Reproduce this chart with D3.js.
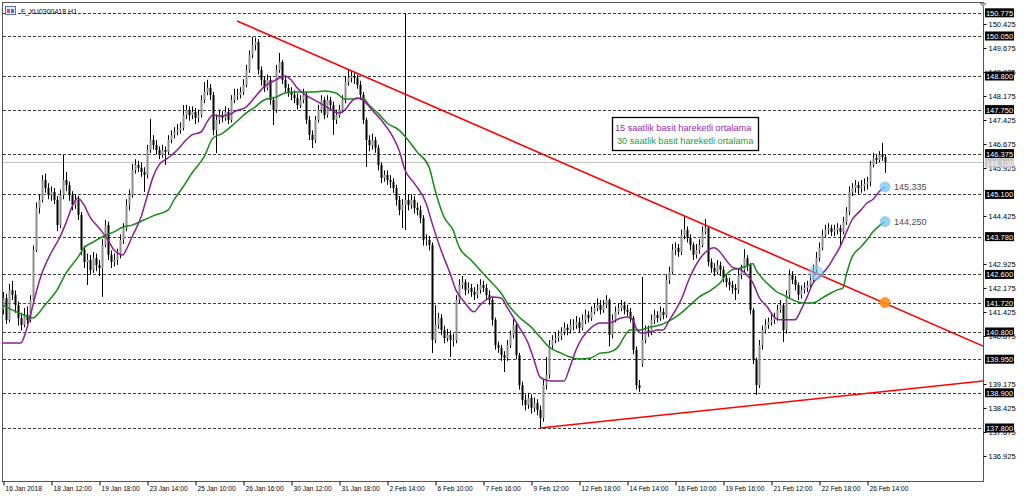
<!DOCTYPE html>
<html><head><meta charset="utf-8">
<script src="https://cdn.jsdelivr.net/npm/d3@7"></script>
<style>body{margin:0;background:#fff}svg{display:block}text{font-family:"Liberation Sans",Arial,sans-serif}</style>
</head><body><svg id="c" width="1024" height="499"></svg>
<script>
// ---- DATA (hourly bars, F_XU0300418 H1) ----
const opens=[
141.50,141.86,141.18,142.11,141.96,141.64,141.24,141.02,141.33,141.18,
141.80,143.36,144.68,144.93,145.55,145.30,145.08,145.18,144.93,144.14,
145.08,145.55,145.39,145.08,144.77,144.93,144.46,143.36,142.99,143.05,
142.74,143.11,142.89,142.80,143.52,144.14,143.21,142.99,143.05,143.21,
143.68,144.05,144.77,145.08,145.86,146.02,145.93,145.80,145.71,146.49,
146.80,146.64,146.49,146.33,146.49,146.43,146.80,146.96,147.05,147.11,
147.18,147.58,147.74,147.58,147.68,147.49,147.58,148.05,148.30,148.43,
148.21,147.11,147.43,147.58,147.49,147.68,147.43,148.05,148.21,148.21,
148.30,148.52,148.99,149.46,149.77,149.86,148.99,148.68,148.43,148.68,
148.05,147.74,148.99,149.24,148.68,148.43,148.30,148.21,148.11,147.89,
148.05,148.21,147.43,146.96,146.80,147.43,147.74,148.05,147.58,148.05,
147.89,147.43,147.58,147.74,148.05,148.61,148.74,148.80,148.74,148.52,
148.21,147.43,146.80,146.64,146.80,146.55,146.02,145.61,145.71,145.55,
145.49,145.30,144.93,144.61,144.77,144.93,144.77,144.93,144.68,144.61,
144.36,143.68,143.68,143.52,140.55,141.02,141.24,140.86,140.61,140.71,
140.55,140.55,141.80,142.27,142.36,142.11,142.18,142.05,141.96,142.11,
142.27,142.18,141.96,141.80,141.18,140.39,140.30,140.08,139.99,140.39,
140.71,141.02,140.08,139.14,138.68,138.52,138.74,138.43,138.58,138.36,
138.11,139.14,139.46,140.39,140.55,140.61,140.68,140.80,140.93,140.86,
141.02,141.02,141.11,140.93,141.18,141.33,141.24,141.43,141.55,141.64,
141.49,141.64,141.80,140.71,141.18,141.43,141.55,141.64,141.49,141.43,
141.24,140.24,139.14,139.80,140.55,140.86,140.80,141.18,141.33,141.24,
141.43,141.33,142.43,142.68,143.36,143.43,143.30,143.83,143.99,143.74,
143.52,143.21,143.36,143.52,143.93,144.05,142.99,142.80,142.68,142.89,
142.74,142.49,142.36,142.27,142.18,142.11,142.58,142.74,143.11,142.89,
141.49,139.93,139.14,140.39,140.86,141.02,141.11,141.18,141.24,141.49,
141.64,140.86,141.96,142.58,142.43,142.27,141.96,142.11,142.18,142.27,
142.43,142.74,143.11,143.43,143.83,143.99,144.05,143.93,143.99,144.05,
143.93,144.24,144.55,145.18,145.30,145.39,145.30,145.36,145.43,145.49,
146.02,146.24,146.18,146.33,146.27];
const highs=[
142.05,142.00,142.30,142.40,142.10,141.75,141.40,141.55,141.60,141.95,
143.50,144.85,145.10,145.70,145.75,145.45,145.35,145.30,145.05,145.25,
146.33,145.80,145.50,145.20,145.10,145.05,144.55,143.50,143.25,143.20,
143.30,143.25,143.05,143.70,144.30,144.25,143.35,143.25,143.40,143.85,
144.20,144.95,145.25,146.05,146.20,146.15,146.10,145.95,146.65,147.46,
146.95,146.80,146.60,146.65,146.60,146.95,147.10,147.20,147.30,147.35,
147.89,147.90,147.85,147.85,147.80,147.75,148.20,148.61,148.68,148.55,
148.30,147.60,147.75,147.70,147.85,147.80,148.20,148.40,148.40,148.45,
148.70,149.15,149.60,150.02,150.00,149.95,149.10,148.80,148.85,148.80,
148.15,149.15,149.52,149.30,148.80,148.55,148.45,148.35,148.25,148.20,
148.40,148.30,147.55,147.10,147.55,147.90,148.20,148.15,148.20,148.15,
148.00,147.75,147.90,148.20,148.80,148.99,148.95,148.90,148.85,148.65,
148.30,147.50,146.95,147.00,146.90,146.65,146.10,145.85,145.85,145.70,
145.60,145.40,145.05,144.95,150.77,145.10,145.10,145.05,144.85,144.75,
144.45,143.85,143.80,143.60,141.64,141.40,141.35,141.00,140.90,140.85,
140.75,141.95,142.45,142.55,142.45,142.35,142.30,142.20,142.30,142.45,
142.40,142.30,142.10,141.90,141.25,140.50,140.40,140.20,140.55,140.85,
141.20,141.10,140.15,139.25,138.85,138.90,138.85,138.75,138.70,138.50,
139.30,140.02,140.55,140.70,140.80,140.85,140.95,141.10,141.05,141.20,
141.20,141.30,141.25,141.35,141.50,141.45,141.60,141.70,141.85,141.80,
141.80,141.95,141.85,141.35,141.60,141.70,141.80,141.75,141.65,141.55,
141.30,140.35,139.30,142.52,141.00,141.00,141.35,141.50,141.45,141.60,
141.55,142.60,142.85,143.55,143.60,143.55,144.00,144.43,144.10,143.85,
143.60,143.55,143.70,144.10,144.33,144.10,143.10,142.95,143.05,143.00,
142.85,142.60,142.50,142.40,142.30,142.75,142.90,143.39,143.20,142.95,
141.55,140.00,140.55,141.00,141.20,141.25,141.35,141.40,141.65,141.80,
141.70,142.10,142.75,142.70,142.55,142.35,142.25,142.35,142.40,142.60,
142.90,143.30,143.60,144.00,144.15,144.20,144.15,144.15,144.20,144.15,
144.40,144.70,145.35,145.45,145.55,145.50,145.55,145.60,145.65,146.15,
146.40,146.35,146.45,146.71,146.35];
const lows=[
141.35,141.05,141.10,141.80,141.40,141.00,140.85,140.95,141.05,141.10,
141.70,143.30,144.50,144.85,145.15,144.95,144.90,144.80,143.95,144.05,
144.95,145.20,144.90,144.60,144.65,144.30,143.20,142.80,142.27,142.60,
142.65,142.70,142.55,141.90,143.45,143.05,142.80,142.85,142.90,143.10,
143.55,143.95,144.60,145.00,145.75,145.80,145.65,145.18,145.60,146.40,
146.50,146.35,146.20,146.25,146.02,146.35,146.70,146.85,146.95,147.00,
147.10,147.45,147.40,147.45,147.30,147.35,147.50,147.95,148.20,148.05,
146.95,146.39,147.30,147.35,147.40,147.30,147.35,147.95,148.05,148.10,
148.20,148.45,148.90,149.35,149.60,148.85,148.50,148.30,148.35,147.90,
147.27,147.65,148.90,148.55,148.30,148.15,148.05,147.95,147.75,147.80,
147.95,147.30,146.80,146.55,146.70,147.35,147.65,147.45,147.50,147.75,
146.96,147.30,147.50,147.65,147.95,148.50,148.60,148.55,148.40,148.05,
147.30,145.96,146.45,146.50,146.40,145.85,145.45,145.50,145.40,145.30,
145.15,144.75,144.45,144.05,143.99,144.60,144.65,144.50,144.45,144.20,
143.50,143.50,143.35,140.14,140.45,140.90,140.70,140.45,140.50,140.02,
140.35,140.45,141.70,142.15,141.95,142.00,141.90,141.80,141.85,142.00,
142.05,141.80,141.65,141.00,140.25,140.15,139.90,139.55,139.90,140.30,
140.60,139.95,139.00,138.50,138.35,138.40,138.25,138.30,138.20,137.80,
138.00,139.00,139.35,140.25,140.45,140.50,140.55,140.70,140.70,140.75,
140.85,140.90,140.80,140.85,141.05,141.10,141.15,141.35,141.45,141.35,
141.40,141.55,140.35,140.60,141.10,141.35,141.45,141.35,141.30,141.10,
140.10,139.00,138.93,139.71,140.45,140.65,140.70,141.05,141.10,141.15,
141.20,141.25,142.30,142.60,143.20,143.15,143.20,143.70,143.60,143.35,
143.05,143.10,143.25,143.45,143.85,142.85,142.65,142.55,142.60,142.55,
142.35,142.20,142.10,142.00,141.80,142.00,142.45,142.65,142.70,141.35,
139.80,138.83,139.05,140.25,140.75,140.90,141.00,141.05,141.15,141.40,
140.49,140.75,141.85,142.30,142.10,141.80,141.85,142.00,142.05,142.15,
142.35,142.65,143.00,143.35,143.75,143.85,143.80,143.80,143.85,143.45,
143.85,144.15,144.45,145.05,145.15,145.10,145.15,145.20,145.25,145.35,
145.95,146.05,146.10,146.15,145.77];
const closes=[
141.86,141.18,142.11,141.96,141.64,141.24,141.02,141.33,141.18,141.80,
143.36,144.68,144.93,145.55,145.30,145.08,145.18,144.93,144.14,145.08,
145.55,145.39,145.08,144.77,144.93,144.46,143.36,142.99,143.05,142.74,
143.11,142.89,142.80,143.52,144.14,143.21,142.99,143.05,143.21,143.68,
144.05,144.77,145.08,145.86,146.02,145.93,145.80,145.71,146.49,146.80,
146.64,146.49,146.33,146.49,146.43,146.80,146.96,147.05,147.11,147.18,
147.58,147.74,147.58,147.68,147.49,147.58,148.05,148.30,148.43,148.21,
147.11,147.43,147.58,147.49,147.68,147.43,148.05,148.21,148.21,148.30,
148.52,148.99,149.46,149.77,149.86,148.99,148.68,148.43,148.68,148.05,
147.74,148.99,149.24,148.68,148.43,148.30,148.21,148.11,147.89,148.05,
148.21,147.43,146.96,146.80,147.43,147.74,148.05,147.58,148.05,147.89,
147.43,147.58,147.74,148.05,148.61,148.74,148.80,148.74,148.52,148.21,
147.43,146.80,146.64,146.80,146.55,146.02,145.61,145.71,145.55,145.49,
145.30,144.93,144.61,144.77,144.93,144.77,144.93,144.68,144.61,144.36,
143.68,143.68,143.52,140.55,141.02,141.24,140.86,140.61,140.71,140.55,
140.55,141.80,142.27,142.36,142.11,142.18,142.05,141.96,142.11,142.27,
142.18,141.96,141.80,141.18,140.39,140.30,140.08,139.99,140.39,140.71,
141.02,140.08,139.14,138.68,138.52,138.74,138.43,138.58,138.36,138.11,
139.14,139.46,140.39,140.55,140.61,140.68,140.80,140.93,140.86,141.02,
141.02,141.11,140.93,141.18,141.33,141.24,141.43,141.55,141.64,141.49,
141.64,141.80,140.71,141.18,141.43,141.55,141.64,141.49,141.43,141.24,
140.24,139.14,139.05,140.55,140.86,140.80,141.18,141.33,141.24,141.43,
141.33,142.43,142.68,143.36,143.43,143.30,143.83,143.99,143.74,143.52,
143.21,143.36,143.52,143.93,144.05,142.99,142.80,142.68,142.89,142.74,
142.49,142.36,142.27,142.18,142.11,142.58,142.74,143.11,142.89,141.49,
139.93,139.14,140.39,140.86,141.02,141.11,141.18,141.24,141.49,141.64,
140.86,141.96,142.58,142.43,142.27,141.96,142.11,142.18,142.27,142.43,
142.74,143.11,143.43,143.83,143.99,144.05,143.93,143.99,144.05,143.93,
144.24,144.55,145.18,145.30,145.39,145.30,145.36,145.43,145.49,146.02,
146.24,146.18,146.33,146.27,146.10];

// moving averages: [bar index, value]
const ma15=[[0,140.46],[3,140.46],[6,140.46],[7,140.64],[9,141.27],[11,142.02],[13,142.64],[16,143.27],[19,143.77],[21,144.21],[23,144.71],[25,144.99],[27,144.77],[29,144.39],[32,144.05],[35,143.68],[37,143.36],[40,143.21],[41,143.36],[43,143.77],[46,144.39],[48,145.02],[50,145.64],[52,146.02],[55,146.24],[57,146.39],[59,146.58],[61,146.80],[63,146.96],[66,147.05],[68,147.36],[70,147.58],[72,147.55],[76,147.61],[77,147.68],[81,147.83],[84,148.14],[87,148.46],[91,148.68],[94,148.80],[96,148.68],[98,148.43],[102,148.14],[105,147.99],[108,147.83],[112,147.64],[114,147.74],[116,147.99],[118,148.11],[120,148.05],[123,147.74],[126,147.43],[130,146.89],[132,146.49],[134,145.86],[137,145.46],[141,144.83],[143,144.21],[146,143.36],[149,142.64],[151,142.11],[154,141.71],[157,141.43],[159,141.64],[161,141.80],[163,141.89],[166,141.86],[168,141.58],[170,141.27],[172,140.96],[175,140.46],[177,139.93],[179,139.39],[181,139.30],[183,139.27],[187,139.27],[189,139.71],[191,140.24],[193,140.61],[196,140.93],[199,141.08],[202,141.08],[206,141.24],[208,141.27],[210,141.18],[211,140.93],[213,140.77],[216,140.80],[218,140.86],[220,140.86],[222,141.15],[224,141.45],[226,141.80],[229,142.52],[232,143.05],[235,143.36],[237,143.43],[239,143.30],[241,143.05],[243,142.83],[246,142.74],[248,142.58],[250,142.33],[252,141.89],[255,141.55],[257,141.27],[259,141.18],[261,141.18],[264,141.18],[266,141.49],[268,141.89],[270,142.33],[272,142.52],[275,142.83],[277,143.14],[279,143.46],[281,143.89],[283,144.30],[286,144.61],[288,144.83],[290,144.95],[292,145.18],[294,145.335]];
const ma30=[[0,141.64],[3,141.49],[7,141.33],[10,141.24],[12,141.40],[14,141.65],[16,141.86],[18,142.11],[21,142.64],[25,143.14],[27,143.43],[30,143.61],[33,143.77],[37,143.93],[40,144.08],[43,144.14],[47,144.30],[50,144.43],[55,144.61],[57,144.93],[60,145.33],[63,145.77],[67,146.27],[70,146.86],[73,147.00],[77,147.30],[81,147.64],[84,147.83],[87,148.05],[91,148.14],[94,148.27],[97,148.30],[101,148.30],[104,148.30],[107,148.33],[111,148.27],[114,148.08],[117,148.08],[120,148.11],[122,147.89],[125,147.64],[128,147.33],[132,147.11],[135,146.80],[138,146.43],[142,145.96],[144,145.24],[147,144.39],[150,143.99],[152,143.46],[156,143.05],[159,142.74],[162,142.43],[166,142.02],[169,141.58],[172,141.27],[176,140.96],[179,140.64],[182,140.33],[186,140.14],[189,140.02],[192,139.96],[196,139.99],[199,140.14],[202,140.17],[205,140.33],[207,140.64],[209,140.86],[212,140.86],[216,140.96],[219,141.02],[222,141.14],[226,141.39],[229,141.64],[232,141.89],[236,142.11],[239,142.33],[241,142.58],[243,142.74],[246,142.80],[248,142.86],[250,142.93],[251,142.74],[253,142.49],[256,142.21],[258,142.05],[260,141.96],[262,141.86],[265,141.74],[267,141.71],[269,141.71],[271,141.74],[273,141.86],[276,142.02],[278,142.11],[280,142.18],[281,142.55],[283,143.14],[286,143.46],[288,143.68],[290,143.93],[292,144.11],[294,144.25]];

const downTrend=[[78,150.52],[326.7,140.36]];
const upTrend=[[179,137.80],[326.7,139.27]];
const levels=[150.775,150.05,148.8,147.75,146.375,145.1,143.78,142.6,141.72,140.8,139.95,138.9,137.8];
// regular price-scale ticks (those fully hidden under level boxes are omitted, as in the reference)
const yTicks=[150.425,149.675,148.925,148.175,147.425,146.675,145.925,144.425,142.925,142.175,141.425,140.675,139.175,138.425,137.675,136.925];
const bid=146.10;
const xTickIdx=[0,16,32,48,64,80,96,112,128,144,160,176,192,208,224,240,256,272,288];
const xLabels=["16 Jan 2018","18 Jan 12:00","19 Jan 18:00","23 Jan 14:00","25 Jan 10:00","26 Jan 16:00","30 Jan 12:00","31 Jan 18:00","2 Feb 14:00","6 Feb 10:00","7 Feb 16:00","9 Feb 12:00","12 Feb 18:00","14 Feb 14:00","16 Feb 10:00","19 Feb 16:00","21 Feb 12:00","22 Feb 18:00","26 Feb 14:00"];
const blueMarks=[[294,145.335,"145,335"],[294,144.25,"144,250"],[271,142.64,""]];
const orangeMarks=[[294,141.72]];
const legendItems=["15 saatlik basit hareketli ortalama","30 saatlik basit hareketli ortalama"];
const symbolTitle="F_XU0300418,H1";

// ---- DRAW ----
const svg=d3.select('#c');
const W=1024,H=499, L=3,R=983,T=3,B=481;
const x=d3.scaleLinear().domain([0,closes.length-1]).range([3,885]);
const y=d3.scaleLinear().domain([137.8,150.05]).range([428,36]);
svg.append('rect').attr('width',W).attr('height',H).attr('fill','#fff');
svg.append('defs').append('clipPath').attr('id','clip').append('rect').attr('x',L).attr('y',T).attr('width',R-L).attr('height',B-T);
const g=svg.append('g').attr('clip-path','url(#clip)');

// level lines (dashed)
g.selectAll('line.lvl').data(levels).join('line').attr('class','lvl')
 .attr('x1',L).attr('x2',R).attr('y1',d=>Math.round(y(d))+0.5).attr('y2',d=>Math.round(y(d))+0.5)
 .attr('stroke','#3a3a3a').attr('stroke-width',1).attr('stroke-dasharray','3,2');
// bid line
g.append('line').attr('x1',L).attr('x2',R).attr('y1',Math.round(y(bid))+0.5).attr('y2',Math.round(y(bid))+0.5)
 .attr('stroke','#c0c0c0').attr('stroke-width',1);

// candles
const idx=d3.range(closes.length);
const cg=g.append('g');
cg.selectAll('rect.wick').data(idx).join('rect').attr('class','wick')
 .attr('x',i=>Math.round(x(i))).attr('width',1)
 .attr('y',i=>y(highs[i])).attr('height',i=>Math.max(1,y(lows[i])-y(highs[i])))
 .attr('fill','#000');
cg.selectAll('rect.body').data(idx).join('rect').attr('class','body')
 .attr('x',i=>Math.round(x(i))-0.5).attr('width',2)
 .attr('y',i=>y(Math.max(opens[i],closes[i])))
 .attr('height',i=>Math.max(1,Math.abs(y(opens[i])-y(closes[i]))))
 .attr('fill',i=>closes[i]>=opens[i]?'#8e8e8e':'#000');

// moving averages
const line=d3.line().x(d=>x(d[0])).y(d=>y(d[1])).curve(d3.curveMonotoneX);
g.append('path').attr('d',line(ma30)).attr('fill','none').attr('stroke','#178a17').attr('stroke-width',1.5);
g.append('path').attr('d',line(ma15)).attr('fill','none').attr('stroke','#8a1e96').attr('stroke-width',1.5);

// trend lines
const tl=d3.line().x(d=>x(d[0])).y(d=>y(d[1]));
[downTrend,upTrend].forEach(t=>g.append('path').attr('d',tl(t)).attr('fill','none').attr('stroke','#ff0000').attr('stroke-width',1.6));

// markers
g.selectAll('circle.bm').data(blueMarks).join('circle').attr('class','bm')
 .attr('cx',d=>x(d[0])).attr('cy',d=>y(d[1])).attr('r',(d,i)=>i===2?7.5:5.5)
 .attr('fill','#7cc8ee').attr('opacity',(d,i)=>i===2?0.6:0.8);
g.selectAll('circle.om').data(orangeMarks).join('circle').attr('class','om')
 .attr('cx',d=>x(d[0])).attr('cy',d=>y(d[1])).attr('r',5.5).attr('fill','#ff8c1a').attr('opacity',0.9);
g.selectAll('text.ml').data(blueMarks.filter(d=>d[2])).join('text').attr('class','ml')
 .attr('x',d=>x(d[0])+9).attr('y',d=>y(d[1])+3.5).attr('font-size',9).attr('fill','#4a4a4a').text(d=>d[2]);

// legend box
const lg=svg.append('g');
lg.append('rect').attr('x',612.5).attr('y',117.5).attr('width',146).attr('height',33).attr('fill','#fff').attr('stroke','#000').attr('stroke-width',1.3);
lg.append('text').attr('x',615).attr('y',130.5).attr('font-size',9.2).attr('fill','#9a2aa8').text(legendItems[0]);
lg.append('text').attr('x',617).attr('y',144).attr('font-size',9.2).attr('fill','#2e9a2e').text(legendItems[1]);

// title
svg.append('rect').attr('x',5.5).attr('y',6.5).attr('width',10).attr('height',8).attr('fill','#e8eefc').attr('stroke','#5a70b8');
svg.append('rect').attr('x',7).attr('y',9).attr('width',3).attr('height',4).attr('fill','#e05050');
svg.append('rect').attr('x',11).attr('y',9).attr('width',3).attr('height',4).attr('fill','#5070d0');
svg.append('text').attr('x',21).attr('y',14).attr('font-size',7).attr('fill','#000').text(symbolTitle);

// frame
svg.append('rect').attr('x',L-0.5).attr('y',T-0.5).attr('width',R-L+1).attr('height',B-T+1).attr('fill','none').attr('stroke','#555');

// right axis
const ya=svg.append('g').attr('transform',`translate(${R+0.5},0)`)
 .call(d3.axisRight(y).tickValues(yTicks).tickSize(3).tickPadding(2).tickFormat(d3.format('.3f')));
ya.select('.domain').remove();
ya.selectAll('text').attr('font-size',7.5).attr('fill','#000').attr('font-family','"Liberation Sans",Arial,sans-serif');
ya.selectAll('line').attr('stroke','#000');
// highlighted level labels
const hl=svg.append('g');
hl.selectAll('rect').data(levels).join('rect').attr('x',985).attr('y',d=>y(d)-4.5).attr('width',29).attr('height',9).attr('fill','#000');
hl.selectAll('text').data(levels).join('text').attr('x',999.5).attr('y',d=>y(d)+3).attr('text-anchor','middle')
 .attr('font-size',7.5).attr('fill','#fff').text(d=>d3.format('.3f')(d));
hl.append('rect').attr('x',985).attr('y',y(bid)-4).attr('width',29).attr('height',9).attr('fill','#c4c4c4');
hl.append('text').attr('x',999.5).attr('y',y(bid)+3.5).attr('text-anchor','middle').attr('font-size',7.5).attr('fill','#fff').text(d3.format('.3f')(bid));
// small shift marker
svg.append('path').attr('d','M979,3 L987,3 L983,7 Z').attr('fill','#a0a0a0');

// bottom axis
const xa=svg.append('g').attr('transform',`translate(0,${B+0.5})`)
 .call(d3.axisBottom(x).tickValues(xTickIdx).tickSize(4).tickFormat((d,i)=>xLabels[i]));
xa.select('.domain').remove();
xa.selectAll('line').attr('stroke','#000').attr('transform','translate(0.5,0)');
xa.selectAll('text').attr('text-anchor','start').attr('x',2).attr('y',5).attr('dy','0.71em')
 .attr('font-size',6.6).attr('fill','#000').attr('font-family','"Liberation Sans",Arial,sans-serif');
</script></body></html>
